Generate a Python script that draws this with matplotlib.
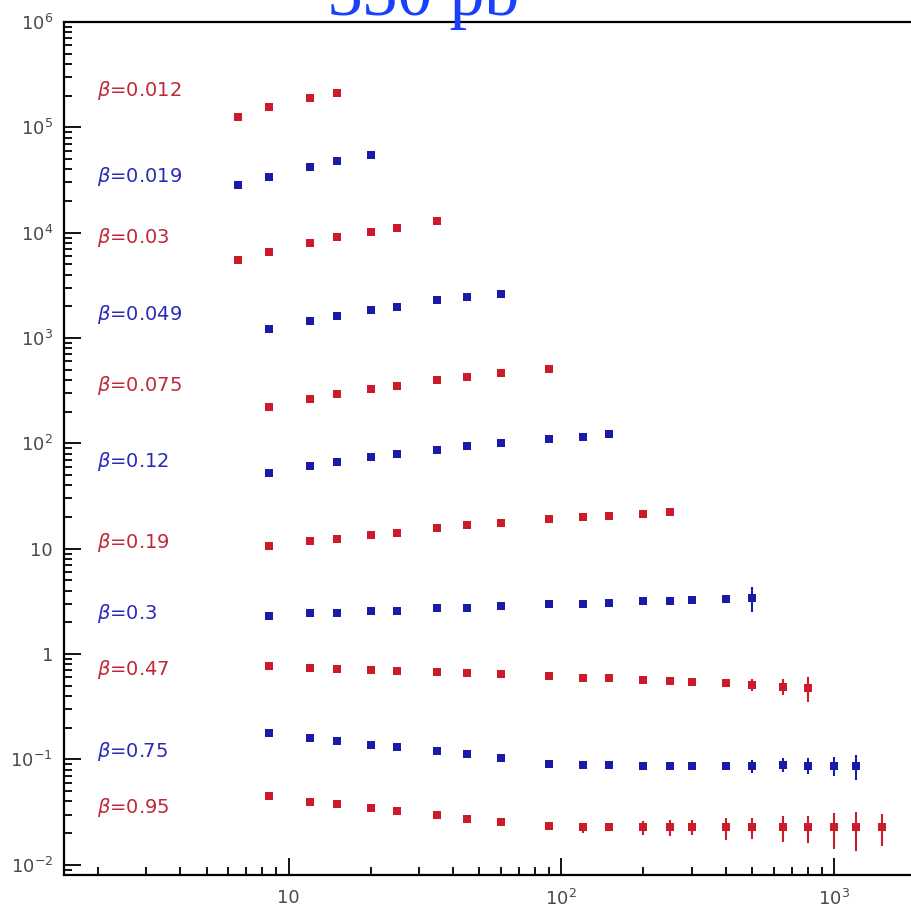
import matplotlib
matplotlib.use("Agg")
import matplotlib.pyplot as plt
from matplotlib.ticker import LogLocator, FixedLocator, FixedFormatter, NullFormatter

# ---- data -------------------------------------------------------------
betas = ["0.012", "0.019", "0.03", "0.049", "0.075", "0.12",
         "0.19", "0.3", "0.47", "0.75", "0.95"]

x_0012 = [6.5, 8.5, 12, 15]
y_0012 = [1.26e5, 1.56e5, 1.90e5, 2.12e5]

x_0019 = [6.5, 8.5, 12, 15, 20]
y_0019 = [2.84e4, 3.38e4, 4.21e4, 4.80e4, 5.47e4]

x_003 = [6.5, 8.5, 12, 15, 20, 25, 35]
y_003 = [5520, 6580, 8000, 9120, 10200, 11100, 13000]

x_0049 = [8.5, 12, 15, 20, 25, 35, 45, 60]
y_0049 = [1222, 1455, 1625, 1853, 1978, 2302, 2459, 2625]

x_0075 = [8.5, 12, 15, 20, 25, 35, 45, 60, 90]
y_0075 = [222, 265, 296, 330, 352, 401, 428, 468, 510]

x_012 = [8.5, 12, 15, 20, 25, 35, 45, 60, 90, 120, 150]
y_012 = [52.6, 61.3, 66.9, 74.6, 79.6, 86.9, 94.8, 101, 111, 116, 123]

x_019 = [8.5, 12, 15, 20, 25, 35, 45, 60, 90, 120, 150, 200, 250]
y_019 = [10.7, 11.9, 12.4, 13.6, 14.2, 15.8, 16.9, 17.6, 19.3, 20.1, 20.6, 21.5, 22.5]
e_019 = [0, 0, 0, 0, 0, 0, 0, 0, 0, 0, 0, 0.6, 1.5]

x_03 = [8.5, 12, 15, 20, 25, 35, 45, 60, 90, 120, 150, 200, 250, 300, 400, 500]
y_03 = [2.31, 2.47, 2.47, 2.58, 2.58, 2.76, 2.76, 2.88, 3.01, 3.01, 3.07,
        3.22, 3.22, 3.28, 3.35, 3.43]
e_03 = [0, 0, 0, 0, 0, 0, 0, 0, 0, 0, 0, 0, 0, 0.1, 0.29, 0.90]

x_047 = [8.5, 12, 15, 20, 25, 35, 45, 60, 90, 120, 150, 200, 250, 300,
         400, 500, 650, 800]
y_047 = [0.776, 0.743, 0.727, 0.711, 0.696, 0.681, 0.666, 0.652, 0.624,
         0.597, 0.597, 0.571, 0.560, 0.548, 0.536, 0.513, 0.491, 0.480]
e_047 = [0, 0, 0, 0, 0, 0, 0, 0, 0, 0, 0, 0, 0, 0, 0.02, 0.067, 0.086, 0.126]

x_075 = [8.5, 12, 15, 20, 25, 35, 45, 60, 90, 120, 150, 200, 250, 300,
         400, 500, 650, 800, 1000, 1200]
y_075 = [0.179, 0.161, 0.151, 0.138, 0.132, 0.121, 0.113, 0.104, 0.0912,
         0.0892, 0.0892, 0.0873, 0.0873, 0.0873, 0.0873, 0.0873, 0.0892,
         0.0873, 0.0873, 0.0873]
e_075 = [0, 0, 0, 0, 0, 0, 0, 0, 0, 0, 0, 0.002, 0.0057, 0.0057, 0.0076,
         0.0124, 0.0134, 0.0153, 0.0172, 0.024]

x_095 = [8.5, 12, 15, 20, 25, 35, 45, 60, 90, 120, 150, 200, 250, 300,
         400, 500, 650, 800, 1000, 1200, 1500]
y_095 = [0.0454, 0.0398, 0.0381, 0.0349, 0.0327, 0.0299, 0.0274, 0.0257,
         0.0232, 0.0226, 0.0228, 0.0228, 0.0226, 0.0228, 0.0226, 0.0226,
         0.0226, 0.0226, 0.0226, 0.0226, 0.0226]
e_095 = [0, 0, 0, 0, 0, 0, 0, 0, 0.0015, 0.0025, 0.0015, 0.0035, 0.004,
         0.0037, 0.0055, 0.005, 0.0062, 0.0065, 0.0085, 0.009, 0.0075]

# position of each beta label (x, y in data units)
label_x = 1.98
label_y = [2.26e5, 3.38e4, 8930, 1660, 352, 66.8, 11.4, 2.41, 0.711, 0.119, 0.0349]

xs = [x_0012, x_0019, x_003, x_0049, x_0075, x_012, x_019, x_03, x_047, x_075, x_095]
ys = [y_0012, y_0019, y_003, y_0049, y_0075, y_012, y_019, y_03, y_047, y_075, y_095]
es = [None, None, None, None, None, None, e_019, e_03, e_047, e_075, e_095]

x_major = [10, 100, 1000]
x_major_labels = ["10", r"$\mathregular{10^{2}}$", r"$\mathregular{10^{3}}$"]
y_major = [1e-2, 1e-1, 1, 10, 1e2, 1e3, 1e4, 1e5, 1e6]
y_major_labels = [r"$\mathregular{10^{-2}}$", r"$\mathregular{10^{-1}}$", "1", "10",
                  r"$\mathregular{10^{2}}$", r"$\mathregular{10^{3}}$",
                  r"$\mathregular{10^{4}}$", r"$\mathregular{10^{5}}$",
                  r"$\mathregular{10^{6}}$"]

title_text = "330 pb"

# ---- style ------------------------------------------------------------
RED = "#cc1a2a"
BLUE = "#1a1aa8"
RED_TXT = "#c0283a"
BLUE_TXT = "#2a2ab8"
TICK_TXT = "#4a4a4a"

plt.rcParams["font.family"] = ["DejaVu Sans"]
plt.rcParams["mathtext.fontset"] = "dejavusans"

fig = plt.figure(figsize=(9.12, 9.15), dpi=100)
# axes runs past the right edge of the canvas
ax = fig.add_axes([64 / 912, 40 / 915, 866 / 912, 853 / 915])
ax.set_xscale("log")
ax.set_yscale("log")
ax.set_xlim(1.5, 2247)
ax.set_ylim(0.008, 1e6)

for i, (x, y, e) in enumerate(zip(xs, ys, es)):
    col = RED if i % 2 == 0 else BLUE
    if e is None:
        ax.plot(x, y, linestyle="none", marker="s", markersize=5.6,
                color=col, markeredgewidth=0)
    else:
        ax.errorbar(x, y, yerr=e, fmt="s", markersize=5.6, color=col,
                    markeredgewidth=0, elinewidth=1.5, capsize=3.2,
                    capthick=1.5)
    tcol = RED_TXT if i % 2 == 0 else BLUE_TXT
    ax.text(label_x, label_y[i], r"$\beta$=" + betas[i], color=tcol,
            fontsize=14, ha="left", va="center")

# ticks
ax.xaxis.set_major_locator(FixedLocator(x_major))
ax.xaxis.set_major_formatter(FixedFormatter(x_major_labels))
ax.xaxis.set_minor_locator(LogLocator(base=10, subs=range(2, 10), numticks=20))
ax.xaxis.set_minor_formatter(NullFormatter())
ax.yaxis.set_major_locator(FixedLocator(y_major))
ax.yaxis.set_major_formatter(FixedFormatter(y_major_labels))
ax.yaxis.set_minor_locator(LogLocator(base=10, subs=range(2, 10), numticks=20))
ax.yaxis.set_minor_formatter(NullFormatter())

ax.tick_params(which="major", direction="in", length=12, width=1.3,
               labelsize=13, labelcolor=TICK_TXT, color="black",
               top=False, right=False)
ax.tick_params(which="minor", direction="in", length=6, width=1.3,
               top=False, right=False)
ax.tick_params(axis="x", which="major", pad=10)
ax.tick_params(axis="y", which="major", pad=8)

for s in ax.spines.values():
    s.set_linewidth(1.6)
ax.spines["right"].set_visible(False)

fig.text(0.464, 1 - 15 / 915, title_text, color="#1a40ff",
         fontsize=50, family="Liberation Serif", ha="center", va="baseline")

fig.savefig("out.png", dpi=100)
